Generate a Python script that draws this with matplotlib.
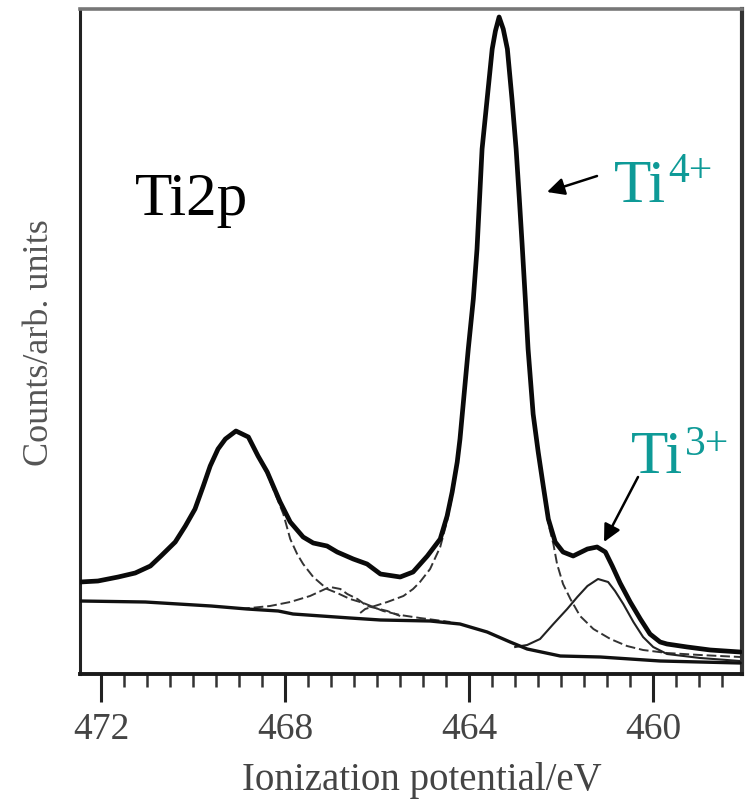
import matplotlib
matplotlib.use('Agg')
import matplotlib.pyplot as plt
from matplotlib.ticker import MultipleLocator

# ---- data (ionization potential / eV, counts in arbitrary units) ----
env_E = [472.46, 472.07, 471.63, 471.26, 470.93, 470.70, 470.39, 470.17, 469.96, 469.78,
         469.63, 469.46, 469.30, 469.07, 468.80, 468.59, 468.39, 468.11, 467.89, 467.61,
         467.39, 467.09, 466.87, 466.52, 466.22, 465.93, 465.50, 465.22, 464.91, 464.63,
         464.48, 464.37, 464.26, 464.20, 464.15, 464.02, 463.91, 463.83, 463.72, 463.61,
         463.50, 463.43, 463.35, 463.26, 463.17, 463.07, 462.98, 462.91, 462.85, 462.78,
         462.72, 462.61, 462.50, 462.39, 462.28, 462.13, 461.96, 461.74, 461.43, 461.22,
         461.04, 460.89, 460.72, 460.50, 460.28, 460.07, 459.85, 459.70, 459.26, 458.76,
         458.11]
env_c = [92, 93, 97, 101, 108, 118, 132, 148, 165, 188,
         208, 225, 235, 243, 237, 218, 202, 172, 152, 137,
         131, 128, 122, 115, 110, 100, 97, 102, 118, 135,
         158, 182, 212, 235, 260, 325, 375, 425, 525, 575,
         625, 643, 657, 645, 625, 575, 525, 475, 430, 375,
         325, 260, 222, 188, 155, 132, 122, 118, 125, 127,
         122, 108, 91, 72, 55, 40, 32, 30, 27, 24,
         22]

bg_E = [472.46, 471.04, 469.61, 468.83, 468.15, 467.83, 466.59, 465.93, 464.85, 464.20,
        463.98, 463.61, 463.11, 462.74, 462.02, 461.15, 459.85, 458.11]
bg_c = [73, 72, 68, 65, 63, 60, 56, 54, 53, 50,
        47, 42, 32, 25, 18, 17, 13, 11]

ti4_half_E = [472.46, 472.07, 471.63, 471.26, 470.93, 470.70, 470.39, 470.17, 469.96, 469.78,
              469.63, 469.46, 469.30, 469.07, 468.80, 468.59, 468.39, 468.04, 467.89, 467.74,
              467.61, 467.39, 467.09, 466.87, 466.59, 466.30, 465.87, 465.50, 465.07, 464.41]
ti4_half_c = [92, 93, 97, 101, 108, 118, 132, 148, 165, 188,
              208, 225, 235, 243, 237, 218, 200, 160, 135, 120,
              110, 97, 85, 81, 75, 71, 63, 59, 56, 52]

ti3_half_E = [468.98, 468.33, 467.89, 467.46, 467.13, 467.02, 466.80, 466.65, 466.43, 466.22,
              465.78, 465.50]
ti3_half_c = [65, 68, 72, 78, 85, 87, 85, 80, 75, 68,
              63, 58]

ti4_main_E = [466.37, 466.26, 465.78, 465.43, 465.22, 465.07, 464.85, 464.63, 464.48, 464.37,
              464.26, 464.20, 464.15, 464.02, 463.91, 463.83, 463.72, 463.61, 463.50, 463.43,
              463.35, 463.26, 463.17, 463.07, 462.98, 462.91, 462.85, 462.78, 462.72, 462.61,
              462.50, 462.39, 462.28, 462.17, 462.09, 461.96, 461.80, 461.59, 461.30, 460.93,
              460.57, 460.22, 459.70, 458.98, 458.11]
ti4_main_c = [61, 65, 72, 78, 85, 92, 105, 127, 153, 178,
              209, 232, 260, 325, 375, 425, 525, 575, 625, 643,
              657, 645, 625, 575, 525, 475, 430, 375, 325, 260,
              222, 188, 150, 130, 110, 90, 75, 58, 45, 35,
              28, 24, 21, 19, 17]

ti3_main_E = [463.00, 462.74, 462.46, 462.17, 461.87, 461.65, 461.43, 461.20, 460.98, 460.83,
              460.65, 460.43, 460.22, 460.00, 459.70, 458.98, 458.11]
ti3_main_c = [27, 29, 35, 50, 65, 77, 88, 95, 92, 83,
              70, 52, 37, 27, 20, 16, 13]

x_ticks = [472, 468, 464, 460]
x_label = 'Ionization potential/eV'
y_label = 'Counts/arb. units'

# ---- figure ----
plt.rcParams['font.family'] = ['Liberation Serif', 'DejaVu Serif']
W, H = 750, 804
fig = plt.figure(figsize=(W / 100, H / 100), dpi=100)
ax = fig.add_axes([80 / W, 1 - 675 / H, 662 / W, 665 / H])


def fp(x, y):
    return (x / W, 1 - y / H)


ax.plot(bg_E, bg_c, color='#111111', lw=2.4, solid_capstyle='round', zorder=3)
ax.plot(ti4_half_E, ti4_half_c, color='#333333', lw=1.4, ls=(0, (5, 2)), zorder=2)
ax.plot(ti3_half_E, ti3_half_c, color='#333333', lw=1.4, ls=(0, (5, 2)), zorder=2)
ax.plot(ti4_main_E, ti4_main_c, color='#333333', lw=1.4, ls=(0, (5, 2)), zorder=2)
ax.plot(ti3_main_E, ti3_main_c, color='#222222', lw=1.5, zorder=2)
ax.plot(env_E, env_c, color='#0a0a0a', lw=3.4, solid_joinstyle='round',
        solid_capstyle='round', zorder=4)

ax.set_xlim(472.46, 458.07)
ax.set_ylim(0, 665)
ax.set_xticks(x_ticks)
ax.set_xticklabels([str(t) for t in x_ticks])
ax.xaxis.set_minor_locator(MultipleLocator(0.5))
ax.set_yticks([])
ax.tick_params(axis='x', which='major', direction='out', length=20, width=2.2,
               color='#222222', labelcolor='#444444', labelsize=27, pad=7)
ax.tick_params(axis='x', which='minor', direction='out', length=9, width=1.8,
               color='#333333')
for side, col, lw in [('left', '#222222', 2.2), ('bottom', '#1a1a1a', 2.8),
                      ('top', '#777777', 2.6), ('right', '#333333', 3.0)]:
    ax.spines[side].set_color(col)
    ax.spines[side].set_linewidth(lw)

fig.text(*fp(422, 790), x_label, ha='center', va='baseline', fontsize=28, color='#444444')
fig.text(*fp(40, 343), y_label, ha='center', va='center', rotation=90,
         fontsize=26, color='#555555')

teal = '#0e9a97'
fig.text(*fp(135, 215), 'Ti2p', ha='left', va='baseline', fontsize=44, color='black')
fig.text(*fp(614, 202), 'Ti', ha='left', va='baseline', fontsize=44, color=teal)
fig.text(*fp(668, 182), '4+', ha='left', va='baseline', fontsize=30, color=teal)
fig.text(*fp(631, 473), 'Ti', ha='left', va='baseline', fontsize=44, color=teal)
fig.text(*fp(685, 455), '3+', ha='left', va='baseline', fontsize=30, color=teal)

arrow = dict(arrowstyle='-|>', lw=1.8, color='black', mutation_scale=26,
             shrinkA=0, shrinkB=0)
ax.annotate('', xy=fp(547, 193), xytext=fp(597, 177), xycoords='figure fraction',
            textcoords='figure fraction', arrowprops=arrow)
ax.annotate('', xy=fp(604, 543), xytext=fp(638, 478), xycoords='figure fraction',
            textcoords='figure fraction', arrowprops=arrow)

fig.savefig('out.png', dpi=100)
